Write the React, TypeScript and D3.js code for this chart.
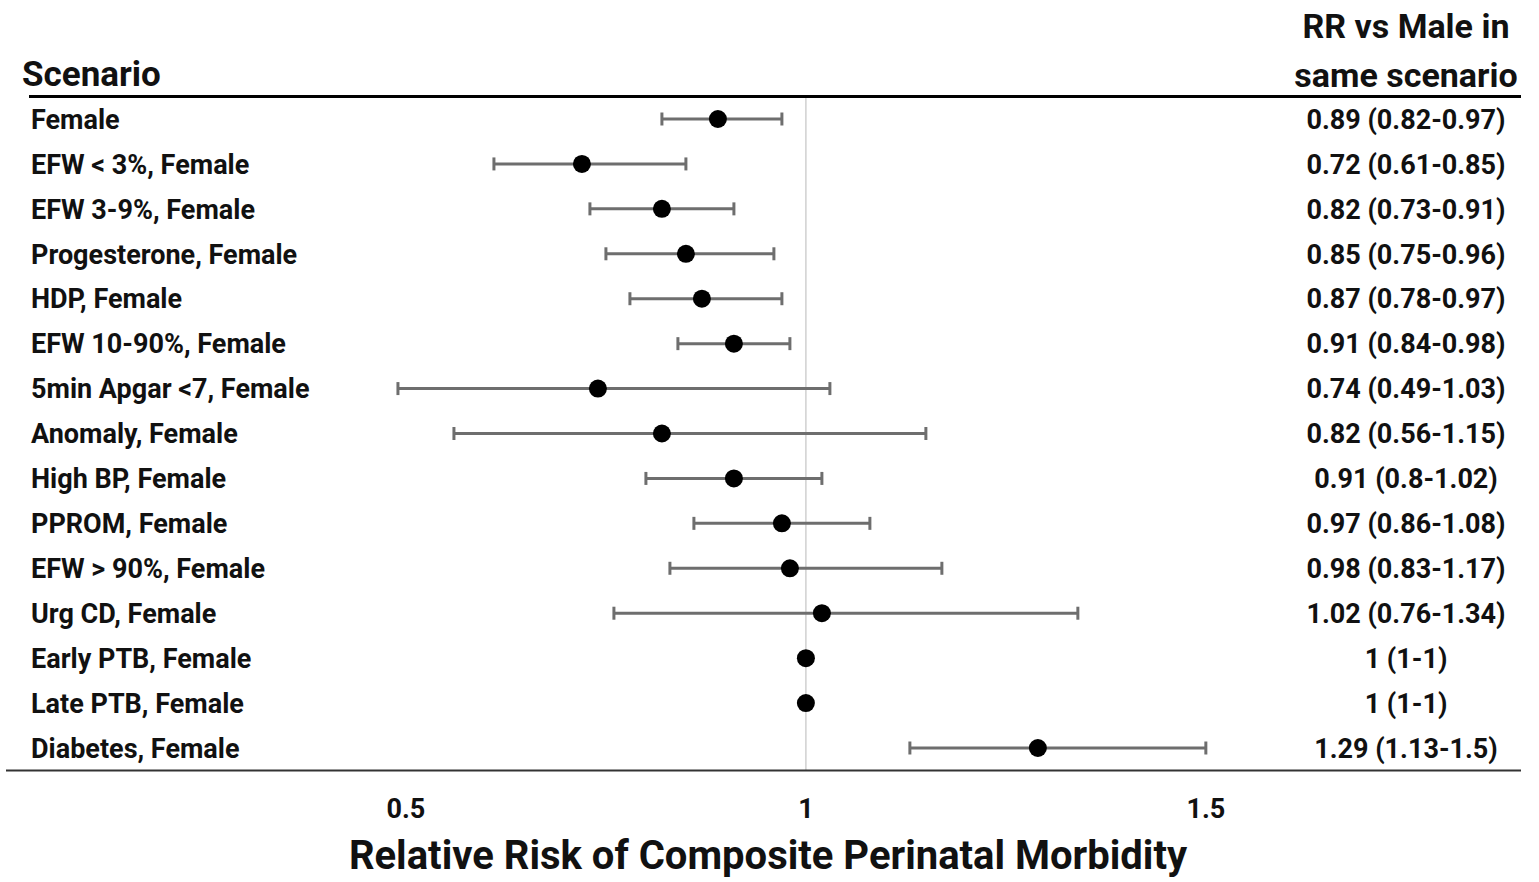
import * as d3 from "d3";

const scenarios = [
  "Female",
  "EFW < 3%, Female",
  "EFW 3-9%, Female",
  "Progesterone, Female",
  "HDP, Female",
  "EFW 10-90%, Female",
  "5min Apgar <7, Female",
  "Anomaly, Female",
  "High BP, Female",
  "PPROM, Female",
  "EFW > 90%, Female",
  "Urg CD, Female",
  "Early PTB, Female",
  "Late PTB, Female",
  "Diabetes, Female",
];
const rr = [0.89, 0.72, 0.82, 0.85, 0.87, 0.91, 0.74, 0.82, 0.91, 0.97, 0.98, 1.02, 1, 1, 1.29];
const lower = [0.82, 0.61, 0.73, 0.75, 0.78, 0.84, 0.49, 0.56, 0.8, 0.86, 0.83, 0.76, 1, 1, 1.13];
const upper = [0.97, 0.85, 0.91, 0.96, 0.97, 0.98, 1.03, 1.15, 1.02, 1.08, 1.17, 1.34, 1, 1, 1.5];
const xTicks = [0.5, 1, 1.5];

const W = 1539;
const H = 882;
const font = "Roboto, 'Noto Sans', sans-serif";

export default function App() {
  const x = d3.scaleLinear().domain([0, 1.894]).range([6, 1521]);
  const y = d3
    .scalePoint<number>()
    .domain(d3.range(scenarios.length))
    .range([119, 748]);
  const fmt = (i: number) => `${rr[i]} (${lower[i]}-${upper[i]})`;

  return (
    <svg
      width={W}
      height={H}
      style={{ position: "absolute", left: 0, top: 0, background: "#fff" }}
      fontFamily={font}
      fontWeight={700}
    >
      {/* headers */}
      <text x={22} y={86} fontSize={35} fill="#111">Scenario</text>
      <text x={1406} y={38} fontSize={34} textAnchor="middle" fill="#111">RR vs Male in</text>
      <text x={1406} y={87} fontSize={34} textAnchor="middle" fill="#111">same scenario</text>
      <line x1={29} x2={1521} y1={96.5} y2={96.5} stroke="#000" strokeWidth={3} />

      {/* reference line at 1 */}
      <line x1={x(1)} x2={x(1)} y1={98} y2={770} stroke="#d0d0d0" strokeWidth={1.5} />

      {scenarios.map((s, i) => {
        const cy = y(i)!;
        return (
          <g key={s}>
            <text x={31} y={cy} dy="0.36em" fontSize={27} fill="#111">{s}</text>
            {upper[i] > lower[i] && (
              <g stroke="#6e6e6e" strokeWidth={3}>
                <line x1={x(lower[i])} x2={x(upper[i])} y1={cy} y2={cy} />
                <line x1={x(lower[i])} x2={x(lower[i])} y1={cy - 6.5} y2={cy + 6.5} />
                <line x1={x(upper[i])} x2={x(upper[i])} y1={cy - 6.5} y2={cy + 6.5} />
              </g>
            )}
            <circle cx={x(rr[i])} cy={cy} r={9} fill="#000" />
            <text x={1406} y={cy} dy="0.36em" fontSize={27} textAnchor="middle" fill="#111">
              {fmt(i)}
            </text>
          </g>
        );
      })}

      {/* bottom axis */}
      <line x1={6} x2={1521} y1={770.5} y2={770.5} stroke="#333" strokeWidth={2} />
      {xTicks.map((t) => (
        <text key={t} x={x(t)} y={818} fontSize={27} textAnchor="middle" fill="#111">
          {t}
        </text>
      ))}
      <text x={768} y={869} fontSize={40} textAnchor="middle" fill="#111">
        Relative Risk of Composite Perinatal Morbidity
      </text>
    </svg>
  );
}
